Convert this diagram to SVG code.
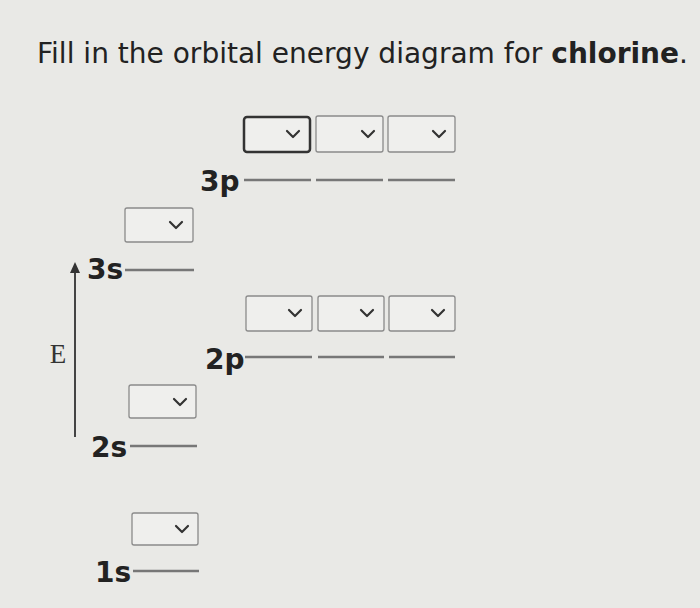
<svg xmlns="http://www.w3.org/2000/svg" width="700" height="608" viewBox="0 0 700 608">
<style>
.bg{fill:#e9e9e6}
.title{font-family:"DejaVu Sans",Verdana,sans-serif;font-size:28px;fill:#222}
.lbl{font-family:"DejaVu Sans",Verdana,sans-serif;font-size:28px;font-weight:bold;fill:#222}
.box{fill:#efefed;stroke:#8a8a8a;stroke-width:1.3}
.box.focus{stroke:#333;stroke-width:2.5}
.chev{fill:none;stroke:#333;stroke-width:2.2;stroke-linecap:round;stroke-linejoin:round}
.lvl{stroke:#777;stroke-width:2.5}
</style>
<rect class="bg" width="700" height="608"/>
<text class="title" x="37" y="63" textLength="651" lengthAdjust="spacingAndGlyphs">Fill in the orbital energy diagram for <tspan font-weight="bold">chlorine</tspan>.</text>

<g id="axis">
<line x1="75" y1="270" x2="75" y2="437" stroke="#444" stroke-width="2"/>
<path d="M70,273 L75,262 L80,273 Z" fill="#333"/>
<text x="58" y="363" text-anchor="middle" font-family="'Liberation Serif',serif" font-size="27" fill="#333">E</text>
</g>

<g id="orbital-3p">
<text class="lbl" x="200" y="191">3p</text>
<line class="lvl" x1="244" y1="180" x2="311" y2="180"/>
<line class="lvl" x1="316" y1="180" x2="383" y2="180"/>
<line class="lvl" x1="388" y1="180" x2="455" y2="180"/>
<rect class="box focus" x="244" y="117" width="66" height="35" rx="3"/>
<path class="chev" d="M287,131 L293,137 L299,131"/>
<rect class="box" x="316" y="116" width="67" height="36" rx="2"/>
<path class="chev" d="M362,131 L368,137 L374,131"/>
<rect class="box" x="388" y="116" width="67" height="36" rx="2"/>
<path class="chev" d="M433,131 L439,137 L445,131"/>
</g>

<g id="orbital-3s">
<text class="lbl" x="87" y="279">3s</text>
<line class="lvl" x1="125" y1="270" x2="194" y2="270"/>
<rect class="box" x="125" y="208" width="68" height="34" rx="2"/>
<path class="chev" d="M170,222 L176,228 L182,222"/>
</g>

<g id="orbital-2p">
<text class="lbl" x="205" y="369">2p</text>
<line class="lvl" x1="245" y1="357" x2="312" y2="357"/>
<line class="lvl" x1="318" y1="357" x2="384" y2="357"/>
<line class="lvl" x1="389" y1="357" x2="455" y2="357"/>
<rect class="box" x="246" y="296" width="66" height="35" rx="2"/>
<path class="chev" d="M289,310 L295,316 L301,310"/>
<rect class="box" x="318" y="296" width="66" height="35" rx="2"/>
<path class="chev" d="M361,310 L367,316 L373,310"/>
<rect class="box" x="389" y="296" width="66" height="35" rx="2"/>
<path class="chev" d="M432,310 L438,316 L444,310"/>
</g>

<g id="orbital-2s">
<text class="lbl" x="91" y="457">2s</text>
<line class="lvl" x1="130" y1="446" x2="197" y2="446"/>
<rect class="box" x="129" y="385" width="67" height="33" rx="2"/>
<path class="chev" d="M174,399 L180,405 L186,399"/>
</g>

<g id="orbital-1s">
<text class="lbl" x="95" y="582">1s</text>
<line class="lvl" x1="133" y1="571" x2="199" y2="571"/>
<rect class="box" x="132" y="513" width="66" height="32" rx="2"/>
<path class="chev" d="M176,526 L182,532 L188,526"/>
</g>
</svg>
